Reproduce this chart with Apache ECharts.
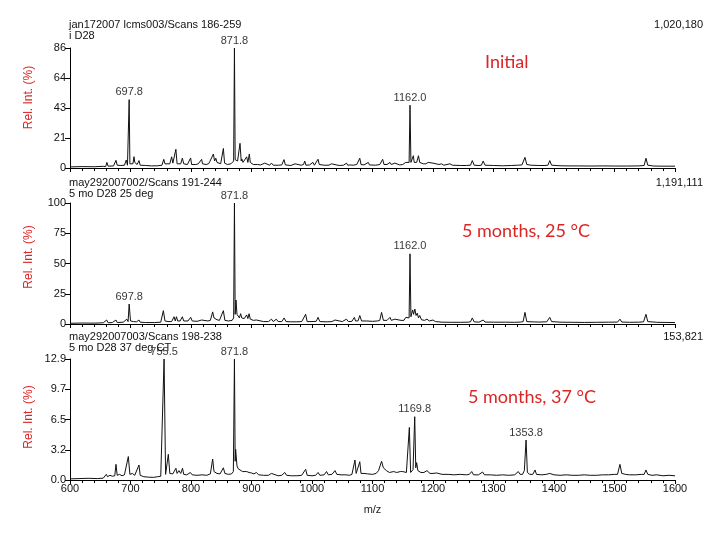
<!DOCTYPE html>
<html>
<head>
<meta charset="utf-8">
<script src="https://cdn.jsdelivr.net/npm/echarts@6/dist/echarts.min.js"></script>
<style>
html,body{margin:0;padding:0;background:#fff;}
#c{width:719px;height:544px;}
</style>
</head>
<body>
<div id="c"></div>
<script>
// ---- data ----
const xTicks = [600,700,800,900,1000,1100,1200,1300,1400,1500,1600];
const yLabels1 = ['0','21','43','64','86'];
const yLabels2 = ['0','25','50','75','100'];
const yLabels3 = ['0.0','3.2','6.5','9.7','12.9'];
const yMax1 = 86, yMax2 = 100, yMax3 = 12.9;

const spec1 = [[600,0.8],[620,1.0],[640,0.9],[655,1.2],[659,1.0],[661,4],[663,1.3],[672,1.5],[674,1.8],[676,5.5],[678,2],[684,1.8],[690,2],[693,5.7],[695,2],[696.5,2.5],[697.8,49],[699,3],[702,2.5],[704,3],[705.8,8.1],[707,4],[709,3],[711,2.5],[714,5.3],[716,2],[725,1.8],[735,1.5],[745,1.6],[752,2],[755,6.2],[757,3],[760,2.5],[765,3],[768,8],[770,3.5],[773,3],[775,13.4],[777,3],[780,2.5],[783,3],[785.7,7],[788,3],[794,2.5],[799.4,7.2],[801,2.5],[808,2.5],[812,3],[817.6,6.2],[819,3],[825,2.5],[829,3],[831,4.5],[834,4],[837,10],[839,5],[841,7],[843,4],[846,3.5],[849,3],[853.5,14],[855.5,3.5],[860,2.5],[866,3],[869,3.5],[870.5,5],[871.8,86],[873,6],[875.5,7.4],[877,5],[879,6],[881,17.7],[883,5],[884,6.5],[886,4],[889,5],[892,8],[894,4],[896.4,10],[898,4],[900,4],[903,2.5],[910,2.5],[915,2.2],[922,3.5],[925,2.2],[930,2],[933,3.5],[936,2],[945,2],[950,2.2],[953.7,6],[956,2.2],[965,1.8],[972,3],[975,2],[982,2],[986,2.5],[988,5],[990,2],[996,2.2],[1001.5,4],[1004,2],[1007,2.5],[1010,6.3],[1012,2.5],[1020,2],[1028,2],[1032,3],[1035,2],[1045,1.8],[1052,2],[1057,3.5],[1059,2],[1063,2.2],[1066,3.5],[1068,2],[1074,2.5],[1077,2.5],[1079,7],[1081,2.5],[1086,2.2],[1093,4],[1095,2.2],[1105,2],[1112,2.5],[1116.8,6.2],[1119,2.5],[1124,2.5],[1129,4],[1131,2.5],[1134,2.5],[1137,3.5],[1139,2.5],[1145,2.2],[1150,2.5],[1155,4],[1158,3],[1160.5,4],[1162,45],[1163.5,4],[1165,5],[1167.5,8.8],[1169,4],[1171,5],[1173,4],[1176,8.8],[1178,4],[1181,4],[1184,3],[1188,3],[1192,4],[1195,3],[1200,3.5],[1203,2.5],[1210,2.5],[1214,3],[1218,2],[1228,3],[1232,2],[1245,1.8],[1255,1.8],[1262,2],[1265,5.3],[1268,2],[1276,1.8],[1280,2],[1283,5],[1286,2],[1300,1.8],[1315,1.6],[1330,1.8],[1340,2],[1347,2.2],[1350,3],[1352,7.6],[1355,2.5],[1362,2],[1375,1.8],[1385,1.8],[1390,2],[1393,5.3],[1396,2],[1410,1.6],[1425,1.5],[1440,1.5],[1460,1.4],[1480,1.5],[1500,1.4],[1520,1.4],[1540,1.5],[1549,1.8],[1552,7],[1555,2],[1565,1.4],[1580,1.3],[1600,1.3]];

const spec2 = [[600,0.6],[620,0.8],[640,0.7],[655,1],[658,1],[660.6,3.3],[663,1],[670,1.2],[676,3.3],[678,1.2],[688,1.5],[694,4],[696,2],[697.8,16.5],[700,2.5],[705,2],[710,1.8],[714,3.3],[716,1.5],[725,1.2],[740,1.2],[750,1.5],[754.3,11],[757,2.5],[762,2],[768,2],[772,6],[774,2.5],[776,6],[778,2.5],[782,2.5],[785.7,6],[788,2.5],[795,2.5],[799.5,5.5],[802,2.5],[810,2.2],[817.6,3.3],[820,2.2],[828,2.5],[832,3],[835.8,10],[838,5],[840,5.5],[843,3.5],[847,3],[850,3],[853.5,11],[856,3],[862,2.5],[868,3],[870.5,5],[871.8,100],[873,8],[874.4,19.8],[876,8],[878,9.4],[880,5],[882,8.5],[884,5],[888,4.5],[892,7.5],[894,4.5],[896,8.5],[898,4],[903,3],[908,3.3],[911,2],[920,2],[928,2],[933,4],[936,2],[941,4],[944,2],[950,2],[954,5],[957,2],[965,1.8],[975,1.8],[983,2],[989.5,8],[992,2],[1000,2],[1007,2.2],[1010,5.5],[1013,2],[1025,1.8],[1033,2],[1038,3.3],[1041,2],[1050,2],[1057,4],[1060,2],[1066,2.2],[1070,5.5],[1072,2.5],[1076,2.5],[1079,7],[1082,2.5],[1090,2.5],[1100,2.2],[1108,2.5],[1112,3],[1115,9.6],[1118,3],[1124,3],[1129,5.5],[1131,3],[1134,3],[1137,4],[1140,3],[1147,3],[1152,3],[1155,5.5],[1158,4],[1160.5,5],[1162,58],[1163.5,6],[1166.3,11.6],[1168,8],[1170,12.4],[1172,7],[1174,9],[1176,5],[1178,7],[1181,3.5],[1186,3],[1190,4],[1194,2.5],[1200,3.3],[1204,2],[1215,1.5],[1230,1.4],[1245,1.4],[1258,1.5],[1262,1.8],[1265,5],[1268,1.8],[1276,1.5],[1283,3.3],[1286,1.6],[1300,1.5],[1320,1.5],[1335,1.4],[1345,1.6],[1349,2],[1352,9.6],[1355,2],[1362,1.8],[1375,1.6],[1388,1.8],[1393,5.5],[1396,2],[1410,1.5],[1430,1.4],[1450,1.3],[1470,1.4],[1490,1.5],[1505,1.6],[1509,4],[1512,1.6],[1525,1.4],[1540,1.5],[1548,1.8],[1552,8],[1555,2],[1570,1.4],[1585,1.3],[1600,1.2]];

const spec3 = [[600,0.12],[615,0.15],[630,0.18],[645,0.15],[655,0.2],[658,0.3],[660,0.6],[662,0.35],[666,0.5],[670,0.4],[674,0.45],[676,1.67],[678,0.5],[682,0.6],[686,0.45],[690,0.55],[693,0.5],[696.4,2.5],[699,0.6],[703,0.7],[707,0.5],[710,0.45],[714,1.6],[716,0.5],[722,0.35],[730,0.3],[738,0.28],[745,0.35],[750,0.4],[753,0.45],[755.5,12.9],[758,0.6],[760,0.55],[762.5,2.74],[765,0.7],[770,0.65],[773,0.8],[775,1.25],[777,0.7],[780,1.0],[783,0.7],[786,1.25],[788,0.6],[793,0.55],[799,0.8],[802,0.55],[810,0.5],[818,0.55],[826,0.5],[832,0.65],[835.8,2.24],[838,0.9],[841,1.1],[843,0.7],[848,0.65],[853.5,1.3],[856,0.7],[862,0.6],[867,0.65],[870,0.9],[871.8,12.9],[873,2],[873.8,3.27],[876,1.5],[878,1.2],[881,1.1],[885,0.9],[888,0.95],[892,0.9],[896,0.8],[900,0.75],[904,0.65],[908,0.8],[912,0.55],[920,0.5],[928,0.5],[933,0.7],[936,0.5],[944,0.45],[950,0.5],[955,0.8],[958,0.5],[966,0.45],[975,0.45],[983,0.5],[989.5,1.14],[992,0.5],[1000,0.45],[1006,0.5],[1010,0.8],[1013,0.5],[1020,0.55],[1024,0.9],[1027,0.55],[1033,0.6],[1038,1.0],[1041,0.6],[1048,0.55],[1056,0.55],[1062,0.5],[1066,0.6],[1069,0.7],[1071,2.13],[1073,0.7],[1076,0.8],[1079,1.95],[1081,0.7],[1086,0.7],[1092,0.65],[1100,0.6],[1106,0.7],[1110,1.0],[1115,2.0],[1118,1.3],[1123,1.0],[1128,0.8],[1135,0.9],[1140,0.8],[1146,0.9],[1150,0.9],[1153,1.1],[1156,0.8],[1158,0.7],[1160.9,5.6],[1163,0.8],[1165,0.7],[1167,1.1],[1169.8,6.75],[1171.5,1.3],[1173,1.85],[1175,1.0],[1177,1.1],[1180,0.8],[1185,0.8],[1190,1.0],[1195,0.7],[1200,0.7],[1206,0.75],[1215,0.6],[1225,0.6],[1235,0.55],[1245,0.6],[1255,0.55],[1260,0.6],[1264,0.9],[1267,0.55],[1275,0.55],[1282,0.85],[1285,0.55],[1295,0.55],[1305,0.5],[1315,0.55],[1325,0.5],[1335,0.55],[1341,0.9],[1344,0.6],[1348,0.6],[1351,1],[1353.8,4.26],[1356,0.8],[1360,0.6],[1365,0.6],[1368.6,1.07],[1371,0.6],[1380,0.55],[1387,0.6],[1393,0.7],[1400,0.55],[1410,0.5],[1420,0.55],[1430,0.5],[1440,0.5],[1450,0.55],[1460,0.5],[1470,0.5],[1480,0.55],[1490,0.55],[1500,0.6],[1505,0.6],[1509,1.67],[1512,0.7],[1518,0.6],[1525,0.55],[1535,0.55],[1545,0.6],[1549,0.6],[1552,1.07],[1555,0.6],[1562,0.5],[1570,0.55],[1580,0.45],[1590,0.5],[1600,0.45]];

const peaks1 = [[697.8,49],[871.8,86],[1162.0,45]];
const peaks2 = [[697.8,16.5],[871.8,100],[1162.0,58]];
const peaks3 = [[755.5,12.9],[871.8,12.9],[1169.8,6.75],[1353.8,4.26]];

const headers = [
  ['jan172007 lcms003/Scans 186-259','i D28','1,020,180','Initial'],
  ['may292007002/Scans 191-244','5 mo D28 25 deg','1,191,111','5 months, 25 \u00B0C'],
  ['may292007003/Scans 198-238','5 mo D28 37 deg CT','153,821','5 months, 37 \u00B0C']
];
const yAxisTitle = 'Rel. Int. (%)';
const xAxisTitle = 'm/z';

// ---- layout ----
const FONT = '"Liberation Sans", Arial, sans-serif';
const RED = '#dc2424';
const grids = [
  {left:70, width:605, top:48, height:120},
  {left:70, width:605, top:203, height:121},
  {left:70, width:605, top:359, height:121}
];
const yMaxes = [yMax1, yMax2, yMax3];
const yLabelSets = [yLabels1, yLabels2, yLabels3];
const specs = [spec1, spec2, spec3];
const peaks = [peaks1, peaks2, peaks3];

const xAxes = grids.map((g,i)=>({
  type:'value', gridIndex:i, min:xTicks[0], max:xTicks[xTicks.length-1], interval:100,
  name: i===2 ? xAxisTitle : '', nameLocation:'middle', nameGap:24,
  nameTextStyle:{fontFamily:FONT, fontSize:11, color:'#222'},
  axisLine:{lineStyle:{color:'#000', width:1}},
  axisTick:{show:true, length:4, lineStyle:{color:'#000'}},
  minorTick:{show:true, splitNumber:5, length:3, lineStyle:{color:'#000'}},
  splitLine:{show:false},
  axisLabel:{show:i===2, margin:3, fontFamily:FONT, fontSize:11, color:'#111',
    formatter:(v)=>String(v)}
}));
const yAxes = grids.map((g,i)=>({
  type:'value', gridIndex:i, min:0, max:yMaxes[i], interval:yMaxes[i]/4,
  axisLine:{show:true, lineStyle:{color:'#000', width:1}},
  axisTick:{show:true, length:5, lineStyle:{color:'#000'}},
  splitLine:{show:false},
  axisLabel:{margin:4, fontFamily:FONT, fontSize:11, color:'#111',
    formatter:(v)=>yLabelSets[i][Math.round(v/(yMaxes[i]/4))]}
}));

const series = [];
specs.forEach((s,i)=>{
  series.push({type:'line', xAxisIndex:i, yAxisIndex:i, data:s, showSymbol:false,
    lineStyle:{color:'#111', width:1}, silent:true});
  series.push({type:'scatter', xAxisIndex:i, yAxisIndex:i, data:peaks[i], symbolSize:0,
    label:{show:true, position:'top', distance:2, fontFamily:FONT, fontSize:11, color:'#000',
      formatter:(p)=>p.value[0].toFixed(1)}, silent:true});
});

const headerY = [[25,36.5,25],[183,194.5,183],[337,348.5,337]];
const annotY = [64,233,399];
const annotX = [485,462,468];
const relY = [97.5,257,417];
const graphic = [];
headers.forEach((h,i)=>{
  graphic.push({type:'text', left:69, top:headerY[i][0]-6, style:{text:h[0], font:'11px '+FONT, fill:'#111'}});
  graphic.push({type:'text', left:69, top:headerY[i][1]-6, style:{text:h[1], font:'11px '+FONT, fill:'#111'}});
  graphic.push({type:'text', right:16, top:headerY[i][2]-6, style:{text:h[2], font:'11px '+FONT, fill:'#111'}});
  graphic.push({type:'text', left:annotX[i], top:annotY[i]-11, style:{text:h[3], font:'18px Lato, sans-serif', fill:RED}});
  graphic.push({type:'text', x:29, y:relY[i], rotation:Math.PI/2,
    style:{text:yAxisTitle, font:'12px '+FONT, fill:RED, textAlign:'center', textVerticalAlign:'middle'}});
});

const chart = echarts.init(document.getElementById('c'), null, {renderer:'canvas'});
chart.setOption({
  animation:false,
  backgroundColor:'#fff',
  grid:grids,
  xAxis:xAxes,
  yAxis:yAxes,
  series:series,
  graphic:graphic
});
</script>
</body>
</html>
